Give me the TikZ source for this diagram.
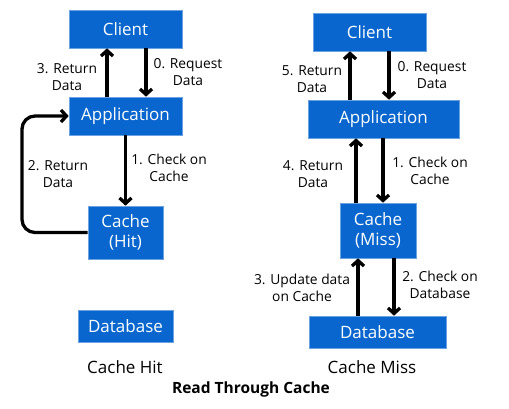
\documentclass[tikz,border=0pt]{standalone}
\usepackage{fontspec}
\setmainfont{Open Sans}
\usetikzlibrary{arrows.meta}

\definecolor{boxblue}{RGB}{8,102,206}
\tikzset{
  box/.style={fill=boxblue,draw=boxblue!60!white,line width=0.6pt,text=white,
    inner sep=0pt,align=center,font=\fontsize{17}{20}\selectfont},
  arr/.style={line width=3.3pt,-{Straight Barb[length=5.5pt,width=12pt,line width=3.3pt]}},
  lbl/.style={align=center,font=\fontsize{13.8}{17.5}\selectfont},
}

\begin{document}
\begin{tikzpicture}[x=1pt,y=-1pt]
\useasboundingbox (0,0) rectangle (509,408);
% cache hit side
\node[box,minimum width=113pt,minimum height=38pt] (cl1) at (125.5,29) {Client};
\node[box,minimum width=113pt,minimum height=38pt] (ap1) at (125.5,116) {Application};
\node[box,minimum width=75pt,minimum height=53pt] (ch1) at (125.5,232.5) {Cache\\(Hit)};
\node[box,minimum width=95pt,minimum height=32pt] (db1) at (125.5,326) {Database};
\coordinate (lp) at (22,0);
\draw[arr] ([xshift=-18.5pt]ap1.north) -- ([xshift=-18.5pt]cl1.south);
\draw[arr] ([xshift=20.5pt]cl1.south) -- ([xshift=20.5pt]ap1.north);
\draw[arr] (ap1.south) -- (ch1.north);
\draw[arr,rounded corners=13pt] (ch1.west) -| (lp |- ap1.west) -- (ap1.west);
\node[lbl] (r3a) at (67,77) {3. Return\\Data};
\node[lbl] (rq0a) at (188,72) {0. Request\\Data};
\node[lbl] (ck1a) at (169,168) {1. Check on\\Cache};
\node[lbl] (r2a) at (58,174) {2. Return\\Data};
\node[font=\fontsize{17}{20}\selectfont] (hit) at (125,367) {Cache Hit};

% cache miss side
\node[box,minimum width=113pt,minimum height=38pt] (cl2) at (369.5,32) {Client};
\node[box,minimum width=151pt,minimum height=38pt] (ap2) at (383.5,119) {Application};
\node[box,minimum width=76pt,minimum height=55pt] (ch2) at (378,230.5) {Cache\\(Miss)};
\node[box,minimum width=137pt,minimum height=32pt] (db2) at (377.5,332) {Database};
\coordinate (u1) at (350,0);
\coordinate (d1) at (389,0);
\coordinate (u2) at (356,0);
\coordinate (d2) at (383,0);
\coordinate (u3) at (358,0);
\coordinate (d3) at (394,0);
\draw[arr] (ap2.north -| u1) -- (cl2.south -| u1);
\draw[arr] (cl2.south -| d1) -- (ap2.north -| d1);
\draw[arr] (ch2.north -| u2) -- (ap2.south -| u2);
\draw[arr] (ap2.south -| d2) -- (ch2.north -| d2);
\draw[arr] (db2.north -| u3) -- (ch2.south -| u3);
\draw[arr] (ch2.south -| d3) -- (db2.north -| d3);
\node[lbl] (r5b) at (312,79) {5. Return\\Data};
\node[lbl] (rq0b) at (432,75) {0. Request\\Data};
\node[lbl] (r4b) at (313,174) {4. Return\\Data};
\node[lbl] (ck1b) at (430,171) {1. Check on\\Cache};
\node[lbl] (up3b) at (302,288) {3. Update data\\on Cache};
\node[lbl] (ck2b) at (440,285) {2. Check on\\Database};
\node[font=\fontsize{17}{20}\selectfont] (miss) at (372,367) {Cache Miss};

\node[font=\bfseries\fontsize{15.5}{18}\selectfont] (title) at (251,389) {Read Through Cache};
\end{tikzpicture}
\end{document}
